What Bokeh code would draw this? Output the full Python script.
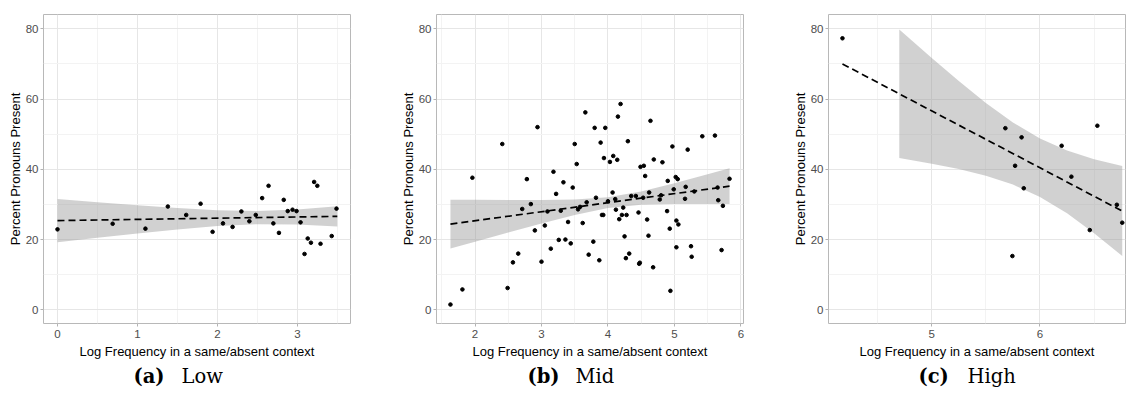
from bokeh.plotting import figure
from bokeh.models import Range1d, FixedTicker, Label
from bokeh.layouts import row, column
from bokeh.embed import file_html
from bokeh.resources import INLINE

# ---------------- data ----------------
# Panel (a) Low
low_x = [0.00, 0.69, 1.10, 1.38, 1.61, 1.79, 1.94, 2.07, 2.19, 2.30, 2.40, 2.48, 2.56, 2.64,
         2.70, 2.77, 2.83, 2.88, 2.94, 2.99, 3.04, 3.09, 3.13, 3.17, 3.21, 3.25, 3.29, 3.43, 3.49]
low_y = [22.9, 24.5, 23.1, 29.4, 27.0, 30.2, 22.2, 24.6, 23.6, 28.0, 25.2, 27.0, 31.8, 35.3,
         24.6, 21.9, 31.3, 28.1, 28.5, 28.1, 24.9, 15.9, 20.3, 19.1, 36.4, 35.3, 18.8, 21.0, 28.8]
low_fit_x = [0.0, 3.5]
low_fit_y = [25.4, 26.6]
low_band_x = [0.0, 0.5, 1.0, 1.5, 2.0, 2.5, 3.0, 3.5]
low_band_hi = [31.55, 30.63, 29.76, 28.96, 28.35, 28.13, 28.57, 29.47]
low_band_lo = [19.25, 20.51, 21.72, 22.86, 23.83, 24.39, 24.29, 23.73]

# Panel (b) Mid
mid_x = [1.63, 1.81, 1.96, 2.41, 2.49, 2.57, 2.65, 2.71, 2.78, 2.84, 2.90, 2.94, 3.00, 3.05,
         3.09, 3.14, 3.18, 3.22, 3.26, 3.29, 3.33, 3.36, 3.40, 3.44, 3.47, 3.50, 3.53, 3.55,
         3.58, 3.62, 3.66, 3.68, 3.71, 3.78, 3.80, 3.82, 3.87, 3.89, 3.91, 3.93, 3.94, 3.96,
         4.00, 4.03, 4.07, 4.08, 4.11, 4.12, 4.14, 4.15, 4.17, 4.19, 4.21, 4.23, 4.25, 4.27,
         4.28, 4.30, 4.32, 4.35, 4.42, 4.46, 4.47, 4.48, 4.49, 4.53, 4.54, 4.56, 4.59, 4.61,
         4.62, 4.64, 4.68, 4.69, 4.78, 4.80, 4.82, 4.89, 4.90, 4.93, 4.94, 4.97, 4.99, 5.02,
         5.03, 5.03, 5.05, 5.06, 5.16, 5.17, 5.20, 5.25, 5.26, 5.30, 5.42, 5.61, 5.65, 5.66,
         5.71, 5.73, 5.83]
mid_y = [1.5, 5.8, 37.6, 47.2, 6.2, 13.5, 16.0, 28.7, 37.2, 30.1, 22.6, 52.0, 13.7, 24.0,
         28.0, 17.4, 39.3, 33.0, 19.9, 28.2, 36.3, 20.0, 25.0, 18.9, 34.8, 47.2, 41.5, 28.6,
         29.3, 24.7, 56.2, 30.6, 15.7, 19.4, 51.8, 31.9, 14.1, 47.6, 27.0, 27.0, 43.2, 51.8,
         30.9, 42.1, 33.4, 43.8, 31.5, 28.5, 42.7, 55.0, 25.8, 58.6, 27.0, 29.1, 20.9, 14.7,
         27.0, 48.0, 16.0, 32.4, 32.4, 27.7, 13.1, 13.4, 40.7, 31.9, 41.0, 38.1, 25.7, 21.1,
         33.4, 53.8, 12.1, 42.8, 31.4, 32.6, 42.0, 28.1, 36.7, 23.1, 5.4, 46.5, 34.3, 37.8,
         25.4, 17.8, 37.2, 24.3, 31.6, 35.0, 45.6, 18.1, 15.1, 33.7, 49.4, 49.6, 34.8, 31.2,
         17.0, 29.6, 37.3]
mid_fit_x = [1.63, 5.83]
mid_fit_y = [24.4, 35.2]
mid_band_x = [1.63, 2.0, 2.5, 3.0, 3.5, 4.0, 4.5, 5.0, 5.5, 5.83]
mid_band_hi = [31.36, 31.31, 31.27, 31.27, 31.41, 32.01, 33.68, 36.02, 38.57, 40.28]
mid_band_lo = [17.44, 19.39, 22.01, 24.57, 27.01, 28.97, 29.88, 30.10, 30.13, 30.12]

# Panel (c) High
high_x = [4.175, 5.68, 5.745, 5.77, 5.83, 5.85, 6.20, 6.29, 6.46, 6.53, 6.71, 6.76]
high_y = [77.3, 51.7, 15.3, 41.0, 49.1, 34.6, 46.7, 37.9, 22.7, 52.4, 29.9, 24.8]
high_fit_x = [4.175, 6.76]
high_fit_y = [70.0, 28.1]
high_band_x = [4.70, 5.0, 5.25, 5.5, 5.75, 6.0, 6.25, 6.5, 6.76]
high_band_hi = [79.81, 71.67, 65.11, 58.90, 53.33, 48.75, 45.32, 42.86, 40.92]
high_band_lo = [43.19, 41.61, 40.07, 38.18, 35.65, 32.13, 27.46, 21.82, 15.32]

y_ticks = [0, 20, 40, 60, 80]
y_minor = [10, 30, 50, 70]

X_LABEL = "Log Frequency in a same/absent context"
Y_LABEL = "Percent Pronouns Present"

SANS = "Liberation Sans"
SERIF = "DejaVu Serif"

PLOT_H = 362
CAP_H = 34


def make_panel(px, py, fx, fy, bx, bhi, blo, xr, xticks, xminor,
               width, left, right, cap_bold, cap_text, cap_bx, cap_tx):
    p = figure(width=width, height=PLOT_H, output_backend="svg", toolbar_location=None,
               x_range=Range1d(*xr), y_range=Range1d(-3.9, 84.07),
               min_border_left=left, min_border_right=right,
               min_border_top=14, min_border_bottom=39)
    p.background_fill_color = "white"
    p.border_fill_color = "white"
    p.outline_line_color = "#B8B8B8"
    p.outline_line_width = 1

    p.xaxis.ticker = FixedTicker(ticks=xticks, minor_ticks=xminor)
    p.yaxis.ticker = FixedTicker(ticks=y_ticks, minor_ticks=y_minor)

    for g in (p.xgrid, p.ygrid):
        g.grid_line_color = "#E6E6E6"
        g.grid_line_width = 1
        g.minor_grid_line_color = "#F3F3F3"
        g.minor_grid_line_width = 1

    for ax in (p.xaxis, p.yaxis):
        ax.axis_line_color = None
        ax.major_tick_line_color = "#B3B3B3"
        ax.major_tick_in = 0
        ax.major_tick_out = 3
        ax.minor_tick_line_color = None
        ax.major_label_text_font = SANS
        ax.major_label_text_font_size = "11.5px"
        ax.major_label_text_color = "#4D4D4D"
        ax.axis_label_text_font = SANS
        ax.axis_label_text_font_size = "13px"
        ax.axis_label_text_font_style = "normal"
        ax.axis_label_text_color = "black"
        ax.major_label_standoff = 2
        ax.axis_label_standoff = 3
    p.yaxis.major_label_standoff = 1
    p.yaxis.axis_label_standoff = 0

    p.xaxis.axis_label = X_LABEL
    p.yaxis.axis_label = Y_LABEL

    p.varea(x=bx, y1=blo, y2=bhi, fill_color="#999999", fill_alpha=0.45)
    p.scatter(px, py, size=3.6, color="black")
    p.line(fx, fy, line_color="black", line_width=1.7, line_dash="7 4")

    # caption strip below the panel (frame fills the whole strip)
    c = figure(frame_width=width, frame_height=CAP_H, output_backend="svg",
               toolbar_location=None, x_axis_type=None, y_axis_type=None,
               x_range=Range1d(0, width), y_range=Range1d(0, CAP_H),
               min_border=0, min_border_left=0, min_border_right=0,
               min_border_top=0, min_border_bottom=0)
    c.outline_line_color = None
    c.grid.visible = False
    c.background_fill_color = "white"
    c.border_fill_color = "white"
    c.add_layout(Label(x=cap_bx, y=20, x_units="data", y_units="data",
                       text=cap_bold, text_font=SERIF, text_font_style="bold",
                       text_font_size="19.5px", text_align="left",
                       text_baseline="middle", text_color="black"))
    c.add_layout(Label(x=cap_tx, y=20, x_units="data", y_units="data",
                       text=cap_text, text_font=SERIF, text_font_style="normal",
                       text_font_size="19.5px", text_align="left",
                       text_baseline="middle", text_color="black"))
    return column(p, c, spacing=0)


pa = make_panel(low_x, low_y, low_fit_x, low_fit_y, low_band_x, low_band_hi, low_band_lo,
                (-0.175, 3.665), [0, 1, 2, 3], [0.5, 1.5, 2.5, 3.5],
                390, 43, 40, "(a)", "Low", 90, 138)
pb = make_panel(mid_x, mid_y, mid_fit_x, mid_fit_y, mid_band_x, mid_band_hi, mid_band_lo,
                (1.42, 6.04), [2, 3, 4, 5, 6], [1.5, 2.5, 3.5, 4.5, 5.5],
                390, 46, 37, "(b)", "Mid", 91, 139)
pc = make_panel(high_x, high_y, high_fit_x, high_fit_y, high_band_x, high_band_hi, high_band_lo,
                (4.046, 6.79), [5, 6], [4.5, 5.5, 6.5],
                346, 48, 1, "(c)", "High", 90, 139)

layout = row(pa, pb, pc, spacing=0)
open("out.html", "w").write(file_html(layout, INLINE))
